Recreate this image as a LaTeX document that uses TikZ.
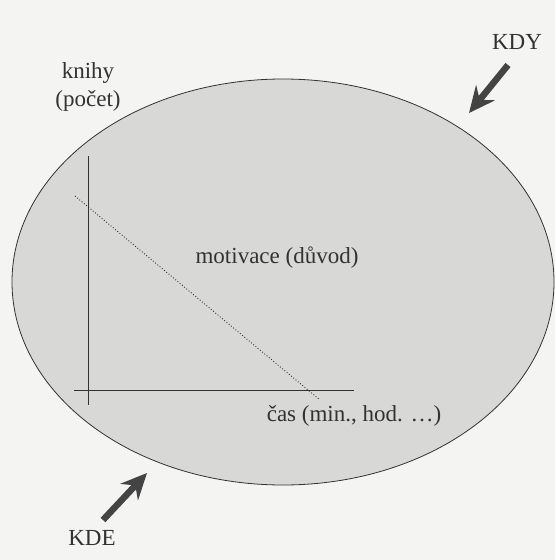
\documentclass[tikz,border=0pt]{standalone}
\usepackage{fontspec}
\setmainfont{Liberation Serif}
\usetikzlibrary{arrows.meta,shapes.geometric}
\definecolor{paper}{RGB}{244,244,243}
\definecolor{oval}{RGB}{216,216,215}
\definecolor{ink}{RGB}{50,50,50}
\definecolor{arrowgray}{RGB}{68,68,68}
\tikzset{
  lbl/.style={font=\fontsize{23}{28}\selectfont, text=ink, inner sep=0pt, align=center},
  axis/.style={draw=ink, line width=0.9pt},
  trend/.style={draw=ink, line width=0.9pt, dotted},
  bigarrow/.style={draw=arrowgray, line width=6.5pt, -{Stealth[length=26pt, width=24pt, inset=9pt]}},
}
\begin{document}
\begin{tikzpicture}[x=1pt,y=-1pt]
\fill[paper] (0,0) rectangle (555,560);
\useasboundingbox (0,0) rectangle (555,560);
\node[ellipse, draw=ink, line width=0.8pt, fill=oval, minimum width=542pt, minimum height=406pt, inner sep=0pt] (oval) at (283,282) {};
% axes
\coordinate (ytop) at (88,156);
\coordinate (ybot) at (88,405);
\coordinate (xl) at (74,390);
\coordinate (xr) at (354,390);
\draw[axis] (ytop) -- (ybot);
\draw[axis] (xl) -- (xr);
\coordinate (ds) at (75,196);
\coordinate (de) at (320,400);
\draw[trend] (ds) -- (de);
% labels
\node[lbl] (knihy) at (88,87) {knihy\\(počet)};
\node[lbl] (motiv) at (277,258) {motivace (důvod)};
\node[lbl] (cas) at (354,416) {čas (min., hod. …)};
\node[lbl] (kdy) at (517,42) {KDY};
\node[lbl] (kde) at (92,538) {KDE};
% arrows
\coordinate (kdyfrom) at (508,65);
\coordinate (kdyto) at (469,113);
\coordinate (kdefrom) at (103,520);
\coordinate (kdeto) at (147,473);
\draw[bigarrow] (kdyfrom) -- (kdyto);
\draw[bigarrow] (kdefrom) -- (kdeto);
\end{tikzpicture}
\end{document}
